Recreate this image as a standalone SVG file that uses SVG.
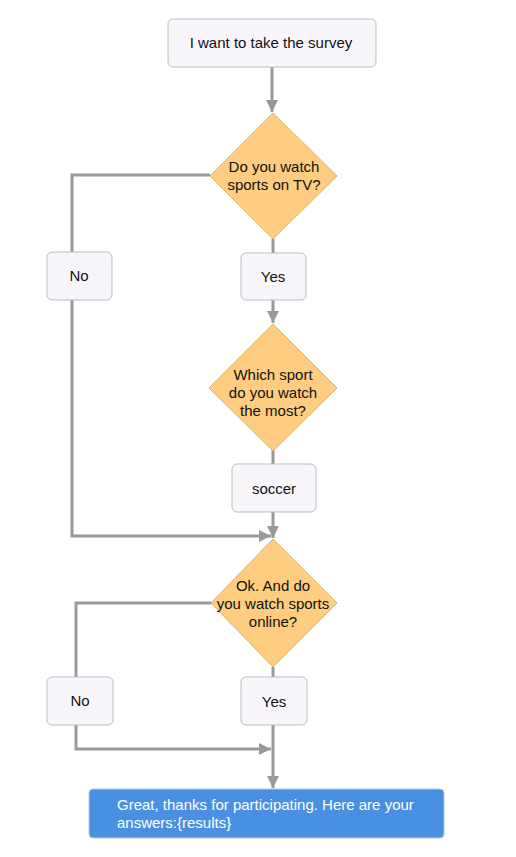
<svg xmlns="http://www.w3.org/2000/svg" width="516" height="857" viewBox="0 0 516 857">
<style>
.box{fill:#f9f6fb;stroke:#bdbdbd;stroke-width:1}
.dia{fill:#fecd80;stroke:#d9b36e;stroke-width:1}
.t{font-family:"Liberation Sans",Arial,sans-serif;font-size:15px;fill:#111;text-anchor:middle}
.c{fill:none;stroke:#999;stroke-width:3}
.w{font-family:"Liberation Sans",Arial,sans-serif;font-size:15px;fill:#fff}
</style>
<defs>
<marker id="ah" viewBox="0 0 10 10" refX="10" refY="5" markerWidth="4" markerHeight="4" markerUnits="strokeWidth" orient="auto">
<path d="M0,0 L10,5 L0,10 z" fill="#999"/>
</marker>
</defs>
<rect width="516" height="857" fill="#fff"/>
<g id="connectors">
<path class="c" d="M272,67 V112" marker-end="url(#ah)"/>
<path class="c" d="M273,239 V253"/>
<path class="c" d="M210,175 H72 V253"/>
<path class="c" d="M273,300 V323" marker-end="url(#ah)"/>
<path class="c" d="M273,450 V464"/>
<path class="c" d="M273,512 V538" marker-end="url(#ah)"/>
<path class="c" d="M72,300 V536 H271" marker-end="url(#ah)"/>
<path class="c" d="M273,667 V677"/>
<path class="c" d="M211,603 H76 V677"/>
<path class="c" d="M76,725 V749 H271" marker-end="url(#ah)"/>
<path class="c" d="M273,725 V788" marker-end="url(#ah)"/>
</g>
<g id="start">
<rect class="box" x="168" y="19" width="208" height="48" rx="5"/>
<text class="t" x="271" y="48">I want to take the survey</text>
</g>
<g id="q1">
<polygon class="dia" points="273,113 337,176 273,239 210,176"/>
<text class="t" x="274" y="172">Do you watch</text>
<text class="t" x="274" y="190">sports on TV?</text>
</g>
<g id="no1">
<rect class="box" x="47" y="252" width="65" height="48" rx="5"/>
<text class="t" x="79" y="281">No</text>
</g>
<g id="yes1">
<rect class="box" x="241" y="253" width="65" height="47" rx="5"/>
<text class="t" x="273" y="282">Yes</text>
</g>
<g id="q2">
<polygon class="dia" points="273,324 337,388 273,451 209,388"/>
<text class="t" x="273" y="380">Which sport</text>
<text class="t" x="273" y="398">do you watch</text>
<text class="t" x="273" y="416">the most?</text>
</g>
<g id="soccer">
<rect class="box" x="232" y="464" width="84" height="48" rx="5"/>
<text class="t" x="274" y="494">soccer</text>
</g>
<g id="q3">
<polygon class="dia" points="273,539 337,603 273,667 211,603"/>
<text class="t" x="273" y="591">Ok. And do</text>
<text class="t" x="273" y="609">you watch sports</text>
<text class="t" x="273" y="627">online?</text>
</g>
<g id="no2">
<rect class="box" x="47" y="677" width="66" height="48" rx="5"/>
<text class="t" x="80" y="706">No</text>
</g>
<g id="yes2">
<rect class="box" x="241" y="677" width="66" height="48" rx="5"/>
<text class="t" x="274" y="707">Yes</text>
</g>
<g id="end">
<rect x="89" y="789" width="355" height="49" rx="4" fill="#4a90e2" stroke="#bcc8d6" stroke-width="1"/>
<text class="w" x="117" y="810">Great, thanks for participating. Here are your</text>
<text class="w" x="117" y="828">answers:{results}</text>
</g>
</svg>
